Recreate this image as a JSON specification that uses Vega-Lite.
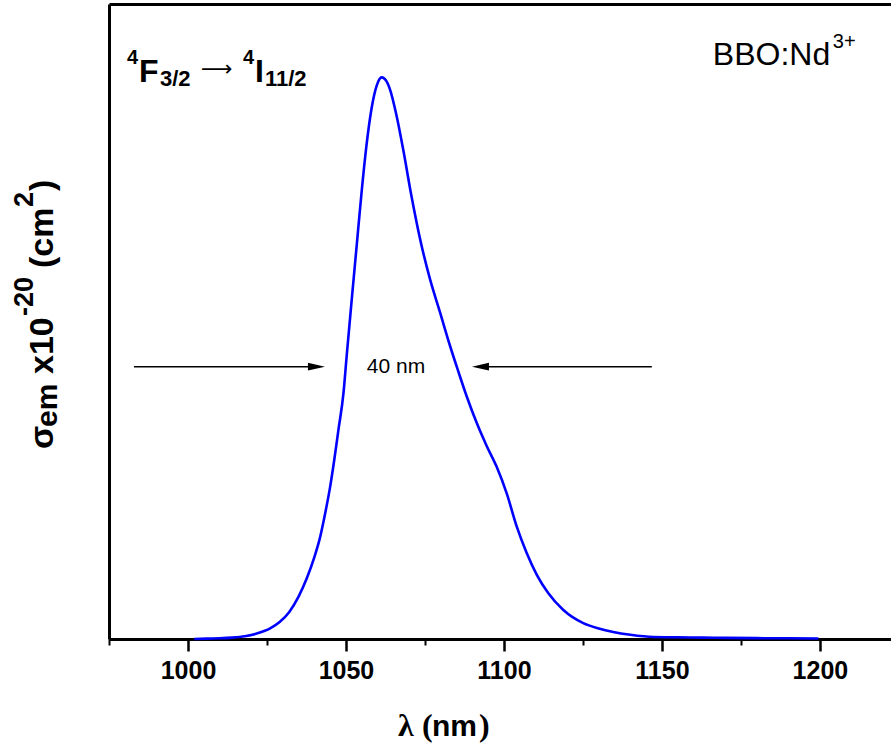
{
  "$schema": "https://vega.github.io/schema/vega-lite/v6.json",
  "width": 782,
  "height": 635,
  "autosize": {"type": "none"},
  "padding": {"left": 109, "top": 4, "right": 0, "bottom": 107},
  "background": "white",
  "config": {"view": {"stroke": null}},
  "datasets": {
    "curve": [
      {"x": 1002, "y": 0.0}, {"x": 1006, "y": 0.003}, {"x": 1010, "y": 0.005}, {"x": 1014, "y": 0.01},
      {"x": 1018, "y": 0.02}, {"x": 1022, "y": 0.04}, {"x": 1026, "y": 0.075}, {"x": 1029, "y": 0.12},
      {"x": 1032, "y": 0.19}, {"x": 1035, "y": 0.3}, {"x": 1037.6, "y": 0.43}, {"x": 1040, "y": 0.58},
      {"x": 1041.8, "y": 0.72}, {"x": 1043.5, "y": 0.9}, {"x": 1045, "y": 1.08}, {"x": 1046.3, "y": 1.27},
      {"x": 1047.6, "y": 1.48}, {"x": 1049.2, "y": 1.74}, {"x": 1050.2, "y": 2.0}, {"x": 1051.8, "y": 2.4},
      {"x": 1053.4, "y": 2.79}, {"x": 1055, "y": 3.18}, {"x": 1056.5, "y": 3.5}, {"x": 1058.1, "y": 3.76},
      {"x": 1059.7, "y": 3.92}, {"x": 1061.3, "y": 3.98}, {"x": 1062.9, "y": 3.95}, {"x": 1064, "y": 3.89},
      {"x": 1066, "y": 3.71}, {"x": 1068.1, "y": 3.47}, {"x": 1070.8, "y": 3.13}, {"x": 1073.4, "y": 2.84},
      {"x": 1076.6, "y": 2.55}, {"x": 1079.7, "y": 2.32}, {"x": 1082.9, "y": 2.08}, {"x": 1085.5, "y": 1.9},
      {"x": 1088.2, "y": 1.72}, {"x": 1091.4, "y": 1.53}, {"x": 1094.5, "y": 1.37}, {"x": 1097.7, "y": 1.22},
      {"x": 1100.9, "y": 1.03}, {"x": 1104, "y": 0.8}, {"x": 1107.2, "y": 0.61}, {"x": 1110.4, "y": 0.455},
      {"x": 1114, "y": 0.326}, {"x": 1118.8, "y": 0.206}, {"x": 1125.1, "y": 0.113}, {"x": 1130, "y": 0.075},
      {"x": 1134.6, "y": 0.05}, {"x": 1140, "y": 0.03}, {"x": 1147.3, "y": 0.014}, {"x": 1155, "y": 0.012},
      {"x": 1163, "y": 0.01}, {"x": 1170, "y": 0.008}, {"x": 1180, "y": 0.006}, {"x": 1190, "y": 0.005},
      {"x": 1199.5, "y": 0.004}
    ],
    "shafts": [
      {"x": 982.9, "x2": 1041, "y": 1.93},
      {"x": 1092, "x2": 1146.8, "y": 1.93}
    ],
    "headR": [{"x": 1040.66, "y": 1.93}],
    "headL": [{"x": 1092.56, "y": 1.93}],
    "lblMain": [
      {"x": 984.49, "y": 3.947, "t": "F"},
      {"x": 1021.2, "y": 3.947, "t": "I"}
    ],
    "lblSup": [
      {"x": 980.7, "y": 4.075, "t": "4"},
      {"x": 1017.41, "y": 4.075, "t": "4"}
    ],
    "lblSub": [
      {"x": 991.14, "y": 3.919, "t": "3/2"},
      {"x": 1024.37, "y": 3.919, "t": "11/2"}
    ],
    "lblArrow": [{"x": 1004.1, "y": 3.99, "t": "⟶"}],
    "bbo": [{"x": 1166.1, "y": 4.068, "t": "BBO:Nd"}],
    "bboSup": [{"x": 1204.1, "y": 4.188, "t": "3+"}],
    "fwhm": [{"x": 1056.6, "y": 1.928, "t": "40 nm"}],
    "xtSerif": [
      {"x": 1066.46, "y": -0.687, "t": "λ"},
      {"x": 1074.05, "y": -0.687, "t": "("},
      {"x": 1092.09, "y": -0.687, "t": ")"}
    ],
    "xtSans": [{"x": 1077.22, "y": -0.687, "t": "nm"}],
    "ytMain": [
      {"x": 957.3, "y": 1.346, "t": "σ"},
      {"x": 957.3, "y": 1.878, "t": "x10"},
      {"x": 957.3, "y": 2.629, "t": "(cm"},
      {"x": 957.3, "y": 3.175, "t": ")"}
    ],
    "ytSub": [{"x": 957.3, "y": 1.502, "t": "em"}],
    "ytSup": [
      {"x": 957.3, "y": 2.289, "t": "-20"},
      {"x": 957.3, "y": 3.061, "t": "2"}
    ]
  },
  "resolve": {"axis": {"x": "independent", "y": "independent"}},
  "layer": [
    {
      "data": {"name": "curve"},
      "mark": {"type": "line", "color": "#0000ff", "strokeWidth": 2.6, "interpolate": "monotone"},
      "encoding": {
        "x": {"field": "x", "type": "quantitative",
          "scale": {"domain": [975, 1222.5], "nice": false, "zero": false},
          "axis": {"orient": "bottom", "title": null, "values": [1000, 1050, 1100, 1150, 1200], "format": "d",
            "grid": false, "domainColor": "black", "domainWidth": 3, "tickColor": "black", "tickWidth": 2.5,
            "tickSize": 12, "labelFont": "Liberation Sans", "labelFontWeight": "bold", "labelFontSize": 25,
            "labelColor": "black", "labelPadding": 7, "labelFlush": false, "labelOverlap": false}},
        "y": {"field": "y", "type": "quantitative",
          "scale": {"domain": [0, 4.5], "nice": false, "zero": false},
          "axis": {"orient": "left", "title": null, "labels": false, "ticks": false, "grid": false,
            "domainColor": "black", "domainWidth": 3}}
      }
    },
    {
      "data": {"name": "shafts"},
      "mark": {"type": "rule", "color": "black", "strokeWidth": 1.5},
      "encoding": {
        "x": {"field": "x", "type": "quantitative",
          "scale": {"domain": [975, 1222.5], "nice": false, "zero": false},
          "axis": {"orient": "bottom", "title": null, "values": [975, 1025, 1075, 1125, 1175, 1225],
            "labels": false, "grid": false, "domainColor": "black", "domainWidth": 3, "tickColor": "black",
            "tickWidth": 2, "tickSize": 6}},
        "x2": {"field": "x2"},
        "y": {"field": "y", "type": "quantitative", "scale": {"domain": [0, 4.5], "nice": false, "zero": false}, "axis": null}
      }
    },
    {
      "data": {"name": "bbo"},
      "mark": {"type": "text", "font": "Liberation Sans", "fontSize": 32, "color": "black", "align": "left", "baseline": "alphabetic"},
      "encoding": {
        "x": {"field": "x", "type": "quantitative",
          "scale": {"domain": [975, 1222.5], "nice": false, "zero": false},
          "axis": {"orient": "top", "title": null, "labels": false, "ticks": false, "grid": false,
            "domainColor": "black", "domainWidth": 3}},
        "y": {"field": "y", "type": "quantitative", "scale": {"domain": [0, 4.5], "nice": false, "zero": false}, "axis": null},
        "text": {"field": "t"}
      }
    },
    {
      "data": {"name": "bboSup"},
      "mark": {"type": "text", "font": "Liberation Sans", "fontSize": 20, "color": "black", "align": "left", "baseline": "alphabetic"},
      "encoding": {
        "x": {"field": "x", "type": "quantitative", "scale": {"domain": [975, 1222.5], "nice": false, "zero": false}, "axis": null},
        "y": {"field": "y", "type": "quantitative", "scale": {"domain": [0, 4.5], "nice": false, "zero": false}, "axis": null},
        "text": {"field": "t"}
      }
    },
    {
      "data": {"name": "headR"},
      "mark": {"type": "point", "shape": "M -1 -0.45 L 1 0 L -1 0.45 Z", "size": 289, "filled": true, "color": "black", "opacity": 1},
      "encoding": {
        "x": {"field": "x", "type": "quantitative", "scale": {"domain": [975, 1222.5], "nice": false, "zero": false}, "axis": null},
        "y": {"field": "y", "type": "quantitative", "scale": {"domain": [0, 4.5], "nice": false, "zero": false}, "axis": null}
      }
    },
    {
      "data": {"name": "headL"},
      "mark": {"type": "point", "shape": "M 1 -0.45 L -1 0 L 1 0.45 Z", "size": 289, "filled": true, "color": "black", "opacity": 1},
      "encoding": {
        "x": {"field": "x", "type": "quantitative", "scale": {"domain": [975, 1222.5], "nice": false, "zero": false}, "axis": null},
        "y": {"field": "y", "type": "quantitative", "scale": {"domain": [0, 4.5], "nice": false, "zero": false}, "axis": null}
      }
    },
    {
      "data": {"name": "fwhm"},
      "mark": {"type": "text", "font": "Liberation Sans", "fontSize": 21, "color": "black", "align": "left", "baseline": "middle"},
      "encoding": {
        "x": {"field": "x", "type": "quantitative", "scale": {"domain": [975, 1222.5], "nice": false, "zero": false}, "axis": null},
        "y": {"field": "y", "type": "quantitative", "scale": {"domain": [0, 4.5], "nice": false, "zero": false}, "axis": null},
        "text": {"field": "t"}
      }
    },
    {
      "data": {"name": "lblMain"},
      "mark": {"type": "text", "font": "Liberation Sans", "fontWeight": "bold", "fontSize": 32, "color": "black", "align": "left", "baseline": "alphabetic"},
      "encoding": {
        "x": {"field": "x", "type": "quantitative", "scale": {"domain": [975, 1222.5], "nice": false, "zero": false}, "axis": null},
        "y": {"field": "y", "type": "quantitative", "scale": {"domain": [0, 4.5], "nice": false, "zero": false}, "axis": null},
        "text": {"field": "t"}
      }
    },
    {
      "data": {"name": "lblSup"},
      "mark": {"type": "text", "font": "Liberation Sans", "fontWeight": "bold", "fontSize": 20, "color": "black", "align": "left", "baseline": "alphabetic"},
      "encoding": {
        "x": {"field": "x", "type": "quantitative", "scale": {"domain": [975, 1222.5], "nice": false, "zero": false}, "axis": null},
        "y": {"field": "y", "type": "quantitative", "scale": {"domain": [0, 4.5], "nice": false, "zero": false}, "axis": null},
        "text": {"field": "t"}
      }
    },
    {
      "data": {"name": "lblSub"},
      "mark": {"type": "text", "font": "Liberation Sans", "fontWeight": "bold", "fontSize": 22, "color": "black", "align": "left", "baseline": "alphabetic"},
      "encoding": {
        "x": {"field": "x", "type": "quantitative", "scale": {"domain": [975, 1222.5], "nice": false, "zero": false}, "axis": null},
        "y": {"field": "y", "type": "quantitative", "scale": {"domain": [0, 4.5], "nice": false, "zero": false}, "axis": null},
        "text": {"field": "t"}
      }
    },
    {
      "data": {"name": "lblArrow"},
      "mark": {"type": "text", "font": "DejaVu Sans", "fontSize": 22, "color": "black", "align": "left", "baseline": "alphabetic"},
      "encoding": {
        "x": {"field": "x", "type": "quantitative", "scale": {"domain": [975, 1222.5], "nice": false, "zero": false}, "axis": null},
        "y": {"field": "y", "type": "quantitative", "scale": {"domain": [0, 4.5], "nice": false, "zero": false}, "axis": null},
        "text": {"field": "t"}
      }
    },
    {
      "data": {"name": "xtSerif"},
      "mark": {"type": "text", "font": "Liberation Serif", "fontWeight": "bold", "fontSize": 32, "color": "black", "align": "left", "baseline": "alphabetic"},
      "encoding": {
        "x": {"field": "x", "type": "quantitative", "scale": {"domain": [975, 1222.5], "nice": false, "zero": false}, "axis": null},
        "y": {"field": "y", "type": "quantitative", "scale": {"domain": [0, 4.5], "nice": false, "zero": false}, "axis": null},
        "text": {"field": "t"}
      }
    },
    {
      "data": {"name": "xtSans"},
      "mark": {"type": "text", "font": "Liberation Sans", "fontWeight": "bold", "fontSize": 30, "color": "black", "align": "left", "baseline": "alphabetic"},
      "encoding": {
        "x": {"field": "x", "type": "quantitative", "scale": {"domain": [975, 1222.5], "nice": false, "zero": false}, "axis": null},
        "y": {"field": "y", "type": "quantitative", "scale": {"domain": [0, 4.5], "nice": false, "zero": false}, "axis": null},
        "text": {"field": "t"}
      }
    },
    {
      "data": {"name": "ytMain"},
      "mark": {"type": "text", "font": "Liberation Sans", "fontWeight": "bold", "fontSize": 34, "color": "black", "align": "left", "baseline": "alphabetic", "angle": 270},
      "encoding": {
        "x": {"field": "x", "type": "quantitative", "scale": {"domain": [975, 1222.5], "nice": false, "zero": false}, "axis": null},
        "y": {"field": "y", "type": "quantitative", "scale": {"domain": [0, 4.5], "nice": false, "zero": false}, "axis": null},
        "text": {"field": "t"}
      }
    },
    {
      "data": {"name": "ytSub"},
      "mark": {"type": "text", "font": "Liberation Sans", "fontWeight": "bold", "fontSize": 30, "color": "black", "align": "left", "baseline": "alphabetic", "angle": 270, "dy": 4},
      "encoding": {
        "x": {"field": "x", "type": "quantitative", "scale": {"domain": [975, 1222.5], "nice": false, "zero": false}, "axis": null},
        "y": {"field": "y", "type": "quantitative", "scale": {"domain": [0, 4.5], "nice": false, "zero": false}, "axis": null},
        "text": {"field": "t"}
      }
    },
    {
      "data": {"name": "ytSup"},
      "mark": {"type": "text", "font": "Liberation Sans", "fontWeight": "bold", "fontSize": 27, "color": "black", "align": "left", "baseline": "alphabetic", "angle": 270, "dy": -20},
      "encoding": {
        "x": {"field": "x", "type": "quantitative", "scale": {"domain": [975, 1222.5], "nice": false, "zero": false}, "axis": null},
        "y": {"field": "y", "type": "quantitative", "scale": {"domain": [0, 4.5], "nice": false, "zero": false}, "axis": null},
        "text": {"field": "t"}
      }
    }
  ]
}
